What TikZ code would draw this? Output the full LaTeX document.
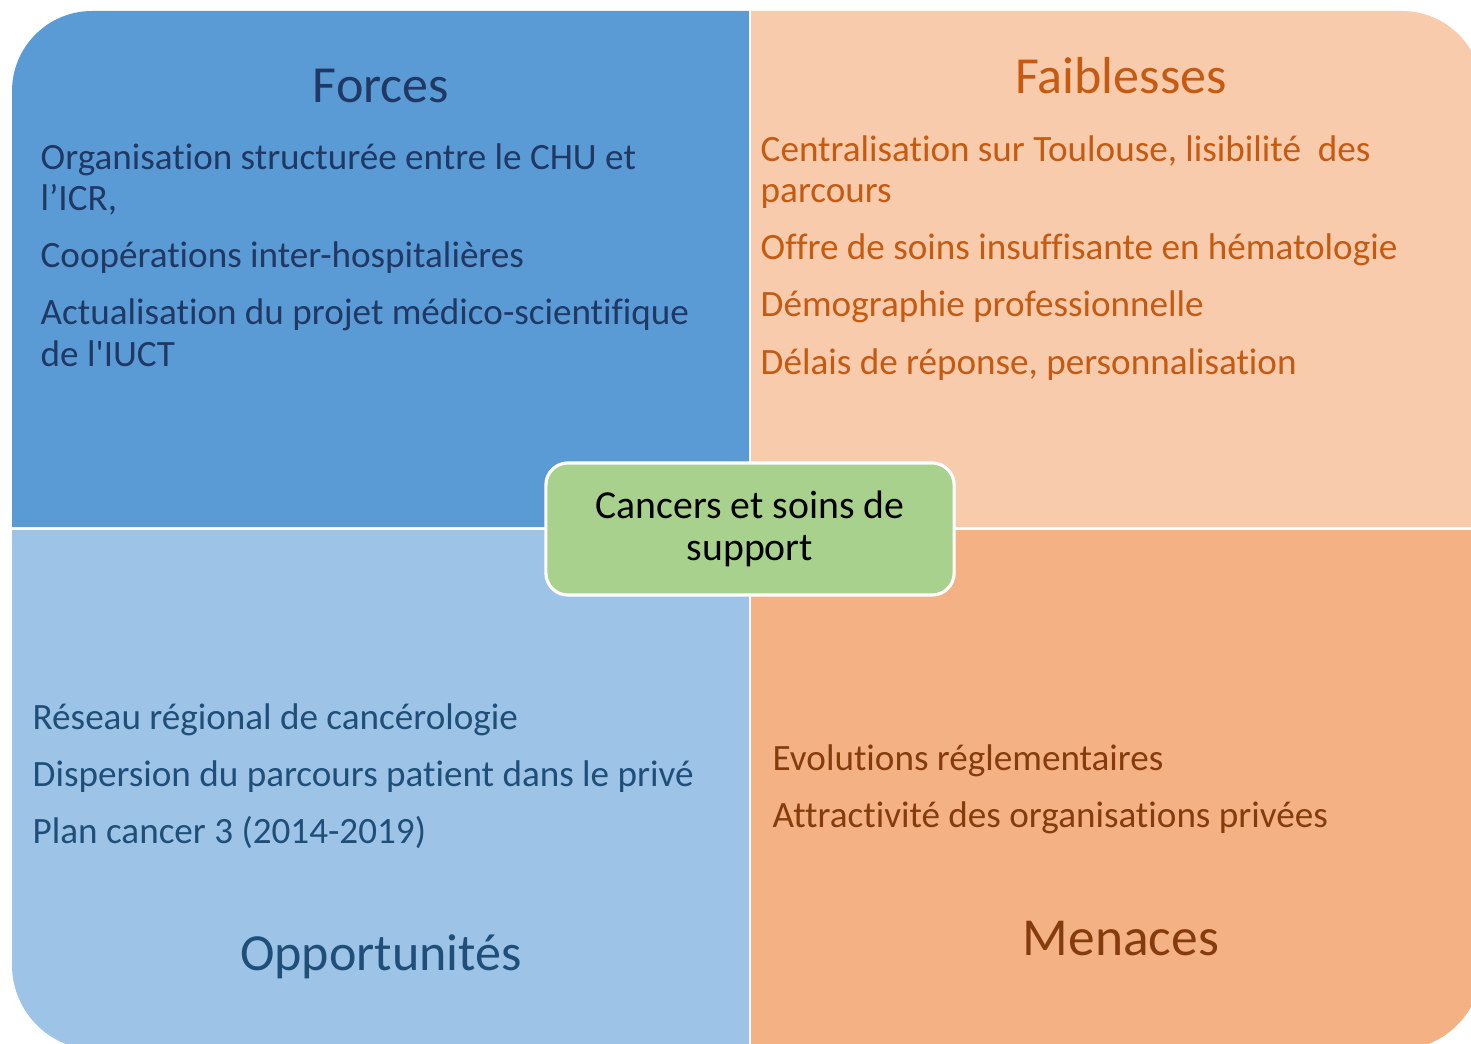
\documentclass[tikz,border=0pt]{standalone}
\usepackage{fontspec}
\setmainfont[Ligatures={NoCommon}]{Carlito}
\usetikzlibrary{positioning}

\definecolor{forceC}{HTML}{5B9BD5}
\definecolor{faibC}{HTML}{F8CBAD}
\definecolor{opporC}{HTML}{9DC3E6}
\definecolor{menacC}{HTML}{F4B183}
\definecolor{centreC}{HTML}{A9D18E}
\definecolor{forceT}{HTML}{203864}
\definecolor{faibT}{HTML}{C55A11}
\definecolor{opporT}{HTML}{1F4E79}
\definecolor{menacT}{HTML}{843C0C}

\begin{document}
\begin{tikzpicture}[x=0.01cm, y=-0.01cm,
	ttl/.style={inner sep=0pt, anchor=base, font=\fontsize{14.8}{17}\selectfont},
	itm/.style={inner sep=0pt, anchor=base west, align=left,
		font=\fontsize{10.56}{11.7}\selectfont},
	centr/.style={draw=white, line width=0.9pt, fill=centreC, rounded corners=0.22cm,
		minimum width=4.08cm, minimum height=1.32cm, align=center,
		font=\fontsize{11.3}{11.95}\selectfont}]
	\useasboundingbox (0,0) rectangle (1471,1043);
	\clip (0,0) rectangle (1471,1043);
	% quadrants
	\fill[forceC] (749,527) -- (12,527) [rounded corners=0.8cm] -- (12,11) [sharp corners] -- (749,11) -- cycle;
	\fill[faibC] (751,527) -- (751,11) [rounded corners=0.8cm] -- (1482,11) [sharp corners] -- (1482,527) -- cycle;
	\fill[opporC] (749,530) -- (12,530) [rounded corners=0.85cm] -- (12,1050) [sharp corners] -- (749,1050) -- cycle;
	\fill[menacC] (751,530) -- (751,1050) [rounded corners=0.85cm] -- (1482,1050) [sharp corners] -- (1482,530) -- cycle;
	% Forces (base = last line of a node)
	\node[ttl, text=forceT] (forces) at (381,103) {Forces};
	\node[itm, text=forceT] (f1) at (40,211) {Organisation structurée entre le CHU et\\l’ICR,};
	\node[itm, text=forceT] (f2) at (40,268) {Coopérations inter-hospitalières};
	\node[itm, text=forceT] (f3) at (40,366) {Actualisation du projet médico-scientifique\\de l\textquotesingle IUCT};
	% Faiblesses
	\node[ttl, text=faibT] (faib) at (1121,94) {Faiblesses};
	\node[itm, text=faibT] (w1) at (760,203) {Centralisation sur Toulouse, lisibilité~ des\\parcours};
	\node[itm, text=faibT] (w2) at (760,260) {Offre de soins insuffisante en hématologie};
	\node[itm, text=faibT] (w3) at (760,317) {Démographie professionnelle};
	\node[itm, text=faibT] (w4) at (760,374) {Délais de réponse, personnalisation};
	% Opportunites
	\node[itm, text=opporT] (o1) at (32,729) {Réseau régional de cancérologie};
	\node[itm, text=opporT] (o2) at (32,786) {Dispersion du parcours patient dans le privé};
	\node[itm, text=opporT] (o3) at (32,843) {Plan cancer 3 (2014-2019)};
	\node[ttl, text=opporT] (oppor) at (381,970) {Opportunités};
	% Menaces
	\node[itm, text=menacT] (m1) at (772,770) {Evolutions réglementaires};
	\node[itm, text=menacT] (m2) at (772,827) {Attractivité des organisations privées};
	\node[ttl, text=menacT, font=\fontsize{15.2}{17}\selectfont] (menac) at (1121,955) {Menaces};
	% centre
	\node[centr] (cancer) at (750,529) {Cancers et soins de\\support};
\end{tikzpicture}
\end{document}
